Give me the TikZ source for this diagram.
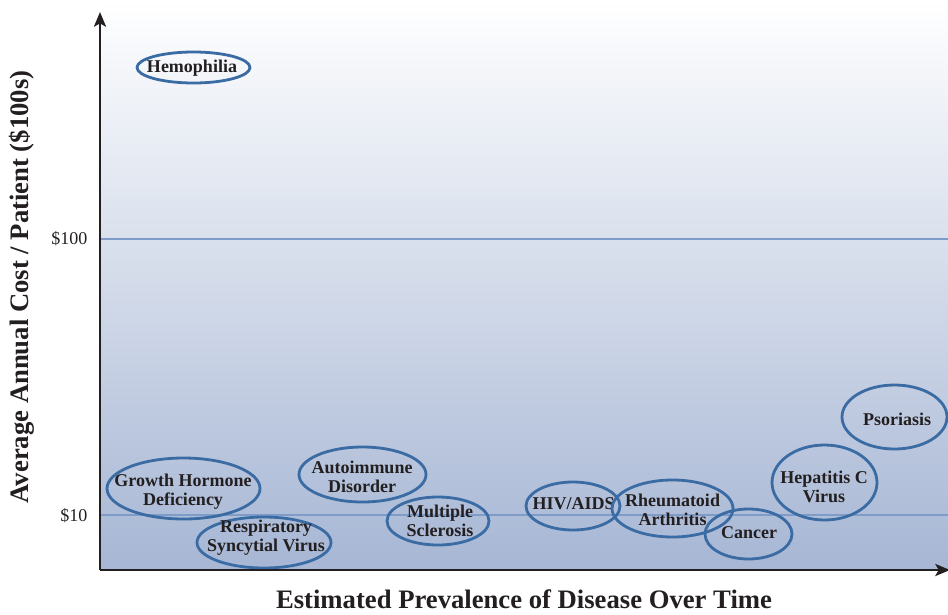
\documentclass[tikz,border=0pt]{standalone}
\usepackage{fontspec}
\setmainfont{Liberation Serif}
\usetikzlibrary{arrows.meta,shapes.geometric}
\definecolor{txt}{HTML}{231F20}
\definecolor{ell}{HTML}{3A6BA3}
\definecolor{gridc}{HTML}{7F9CC8}
\definecolor{gradbot}{HTML}{A6B6D4}
\tikzset{
  dis/.style 2 args={ellipse, draw=ell, line width=2.1pt, inner sep=0pt,
    minimum width=#1*1.5pt, minimum height=#2*1.5pt},
  distxt/.style={align=center, inner sep=0pt, text=txt,
    font=\fontsize{13.5}{14.5}\selectfont\bfseries},
  axis/.style={line width=2pt, draw=txt, -{Stealth[length=11pt,width=9pt,inset=2.5pt]}},
  gridl/.style={draw=gridc, line width=1.1pt},
  tick/.style={text=txt, anchor=east, font=\fontsize{13.5}{14}\selectfont},
  axlabel/.style={text=txt, font=\fontsize{20}{22}\selectfont\bfseries}
}
\begin{document}
\begin{tikzpicture}[x=0.75pt,y=-0.75pt]
\useasboundingbox (0,0) rectangle (948,614);
\shade[top color=white, bottom color=gradbot] (100,0) rectangle (948,570);
\coordinate (o) at (100,570);
\coordinate (ytop) at (100,12);
\coordinate (xend) at (950,570);
\coordinate (g1a) at (100,239);
\coordinate (g1b) at (948,239);
\coordinate (g2a) at (100,515);
\coordinate (g2b) at (948,515);
\draw[gridl] (g1a) -- (g1b);
\draw[gridl] (g2a) -- (g2b);
\node[tick] (t100) at (92,239) {\$100};
\node[tick] (t10) at (92,516) {\$10};
\node[dis={56.5}{15.5}] (hemo) at (193.5,67.5) {};
\node[distxt] (hemot) at (192,68) {Hemophilia};
\node[dis={76.5}{30.5}] (ghd) at (183.5,488.5) {};
\node[distxt] (ghdt) at (183,492) {Growth Hormone\\Deficiency};
\node[dis={67}{25.5}] (rsv) at (264,542.5) {};
\node[distxt] (rsvt) at (266,538) {Respiratory\\Syncytial Virus};
\node[dis={63.5}{27.5}] (auto) at (362.5,474.5) {};
\node[distxt] (autot) at (362,477) {Autoimmune\\Disorder};
\node[dis={51}{24}] (ms) at (438,521) {};
\node[distxt] (mst) at (440,521) {Multiple\\Sclerosis};
\node[dis={47}{24}] (hiv) at (573,506) {};
\node[distxt] (hivt) at (573.5,504) {HIV/AIDS};
\node[dis={60.5}{28.5}] (ra) at (672.5,508.5) {};
\node[distxt] (rat) at (672.5,510) {Rheumatoid\\Arthritis};
\node[dis={43.5}{25}] (cancer) at (748.5,534) {};
\node[distxt] (cancert) at (749,533) {Cancer};
\node[dis={52.5}{37.5}] (hcv) at (824.5,482.5) {};
\node[distxt] (hcvt) at (824,487) {Hepatitis C\\Virus};
\node[dis={52.5}{32}] (pso) at (894.5,417) {};
\node[distxt] (psot) at (897,419) {Psoriasis};
\draw[axis] (o) -- (ytop);
\draw[axis] (o) -- (xend);
\node[axlabel, rotate=90] (ylab) at (22,287) {Average Annual Cost / Patient (\$100s)};
\node[axlabel] (xlab) at (524,599) {Estimated Prevalence of Disease Over Time};
\end{tikzpicture}
\end{document}
